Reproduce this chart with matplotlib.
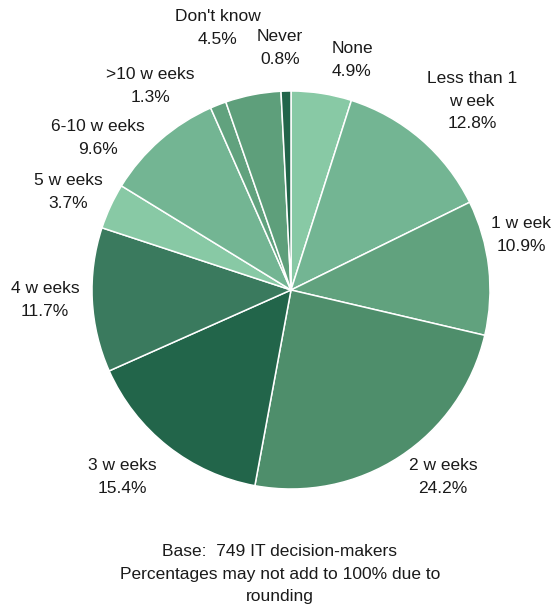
import matplotlib
matplotlib.use("Agg")
import matplotlib.pyplot as plt

# data
categories = ["None", "Less than 1\nw eek", "1 w eek", "2 w eeks", "3 w eeks",
              "4 w eeks", "5 w eeks", "6-10 w eeks", ">10 w eeks",
              "Don't know", "Never"]
values = [4.9, 12.8, 10.9, 24.2, 15.4, 11.7, 3.7, 9.6, 1.3, 4.5, 0.8]
colors = ["#88c9a5", "#73b593", "#61a27e", "#4e8e6b", "#22654a", "#3a7a5e",
          "#88c9a5", "#73b593", "#61a27e", "#5e9f7b", "#22654a"]

# label anchor points (pixels, from top-left)
label_pos = [(352, 60), (472, 101), (521, 235), (443, 477), (122, 477),
             (45, 300), (68, 192), (98, 138), (150, 86), (218, 28), (280, 48)]

W, H = 554, 606
cx, cy, r = 291, 290, 199

plt.rcParams["font.family"] = ["Liberation Sans", "DejaVu Sans"]

fig = plt.figure(figsize=(W / 100, H / 100), dpi=100)
ax = fig.add_axes([0, 0, 1, 1])

ax.pie(values, colors=colors, startangle=90, counterclock=False,
       center=(cx, H - cy), radius=r,
       wedgeprops=dict(edgecolor="white", linewidth=1.1))

ax.set_xlim(0, W)
ax.set_ylim(0, H)
ax.set_aspect("equal")
ax.axis("off")

for cat, v, (x, y) in zip(categories, values, label_pos):
    ax.text(x, H - y, f"{cat}\n{v:.1f}%", ha="center", va="center",
            fontsize=12.5, linespacing=1.6, color="#1a1a1a")

ax.text(280, H - 574,
        "Base:  749 IT decision-makers\nPercentages may not add to 100% due to\nrounding",
        ha="center", va="center", fontsize=12.5, linespacing=1.6, color="#1a1a1a")

fig.savefig("out.png", dpi=100)
